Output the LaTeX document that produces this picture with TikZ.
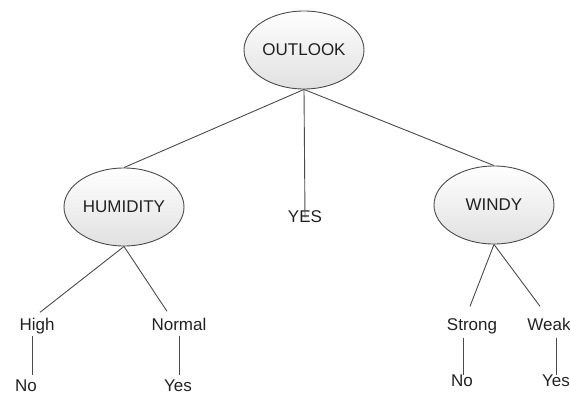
\documentclass[tikz,border=0pt]{standalone}
\usepackage{fontspec}
\setmainfont{Liberation Sans}
\usetikzlibrary{shapes.geometric}
\definecolor{ink}{HTML}{222222}
\definecolor{edge}{HTML}{4A4A4A}
\tikzset{
  attr/.style={ellipse, draw=edge, line width=0.9pt, inner sep=0pt,
    minimum width=120pt, minimum height=78pt,
    top color=white, bottom color=white!88!black,
    text=ink, font=\fontsize{17}{20}\selectfont},
  leaf/.style={text=ink, font=\fontsize{17}{20}\selectfont, anchor=base,
    text height=12.5pt, text depth=3.5pt, inner xsep=0pt, inner ysep=5pt},
  link/.style={draw=edge, line width=0.9pt}
}
\begin{document}
\begin{tikzpicture}[x=1pt, y=-1pt]
  \useasboundingbox (0,0) rectangle (570,396);

  % decision nodes
  \node[attr] (outlook)  at (304,50)  {OUTLOOK};
  \node[attr] (humidity) at (124,207) {HUMIDITY};
  \node[attr] (windy)    at (494,205) {WINDY};
  \node[leaf, inner ysep=0pt] (yes0) at (305,222) {YES};

  % branch values
  \node[leaf] (high)   at (37,330)  {High};
  \node[leaf] (normal) at (179,330) {Normal};
  \node[leaf] (strong) at (472,330) {Strong};
  \node[leaf] (weak)   at (549,330) {Weak};

  % outcomes
  \node[leaf] (no1)  at (26,391)  {No};
  \node[leaf] (yes1) at (178,391) {Yes};
  \node[leaf] (no2)  at (462,386) {No};
  \node[leaf] (yes2) at (556,386) {Yes};

  % top level
  \draw[link] (outlook.south) -- (humidity.north);
  \draw[link] (outlook.south) -- (yes0.center);
  \draw[link] (outlook.south) -- (windy.north);

  % humidity branch
  \draw[link] (humidity.south) -- ([xshift=3pt]high.north);
  \draw[link] (humidity.south) -- ([xshift=-12pt,yshift=1pt]normal.north);
  \draw[link] ([xshift=-5pt,yshift=3pt]high.south) -- ([xshift=-5pt,yshift=-2pt]high.south |- no1.north);
  \draw[link] ([yshift=3pt]normal.south) -- ([yshift=-2pt]normal.south |- yes1.north);

  % windy branch
  \draw[link] (windy.south) -- ([xshift=-2pt,yshift=6pt]strong.north);
  \draw[link] (windy.south) -- ([xshift=-9pt,yshift=6pt]weak.north);
  \draw[link] ([xshift=-9pt,yshift=1pt]strong.south) -- ([xshift=-9pt,yshift=-7pt]strong.south |- no2.north);
  \draw[link] ([xshift=7pt,yshift=1pt]weak.south) -- ([xshift=7pt,yshift=-7pt]weak.south |- yes2.north);
\end{tikzpicture}
\end{document}
